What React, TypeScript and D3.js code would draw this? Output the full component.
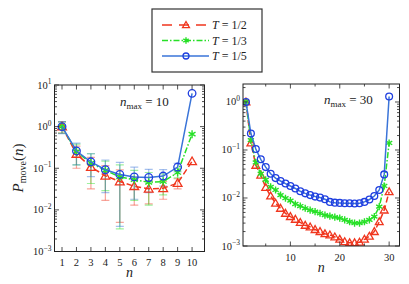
import React from 'react';
import * as d3 from 'd3';

// ---------- data ----------
const nLeft = [1, 2, 3, 4, 5, 6, 7, 8, 9, 10];
const leftT2 = [1.0, 0.22, 0.107, 0.066, 0.048, 0.037, 0.032, 0.033, 0.044, 0.146];
const leftT3 = [1.0, 0.25, 0.133, 0.089, 0.062, 0.053, 0.046, 0.048, 0.079, 0.66];
const leftT5 = [1.0, 0.26, 0.143, 0.092, 0.071, 0.062, 0.06, 0.065, 0.107, 6.3];
const leftErrT2 = [0.3, 0.12, 0.075, 0.049, 0.043, 0.024, 0.018, 0.015, 0.012, 0];
const leftErrT3 = [0.3, 0.13, 0.09, 0.06, 0.0585, 0.036, 0.033, 0.025, 0.02, 0];
const leftErrT5 = [0.32, 0.14, 0.08, 0.066, 0.067, 0.044, 0.034, 0.028, 0.025, 0];

const nRight = [1, 2, 3, 4, 5, 6, 7, 8, 9, 10, 11, 12, 13, 14, 15, 16, 17, 18, 19, 20, 21, 22, 23, 24, 25, 26, 27, 28, 29, 30];
const rightT2 = [1.0, 0.14, 0.048, 0.03, 0.0166, 0.011, 0.0078, 0.0061, 0.0048, 0.0041, 0.0036, 0.0031, 0.0027, 0.0025, 0.0022, 0.002, 0.0018, 0.0017, 0.00155, 0.00138, 0.00123, 0.00117, 0.00117, 0.0012, 0.00138, 0.0016, 0.002, 0.0032, 0.0056, 0.0135];
const rightT3 = [1.0, 0.16, 0.055, 0.032, 0.024, 0.017, 0.0147, 0.0115, 0.0099, 0.0088, 0.0075, 0.0068, 0.0061, 0.0056, 0.0052, 0.0048, 0.0044, 0.0042, 0.004, 0.0038, 0.0035, 0.0032, 0.003, 0.003, 0.0032, 0.0035, 0.0041, 0.0066, 0.0178, 0.14];
const rightT5 = [1.0, 0.22, 0.105, 0.064, 0.044, 0.032, 0.026, 0.0226, 0.02, 0.0178, 0.0158, 0.0138, 0.0125, 0.0115, 0.0107, 0.0102, 0.0094, 0.0083, 0.008, 0.0079, 0.0078, 0.0078, 0.0077, 0.0078, 0.0083, 0.0093, 0.011, 0.0147, 0.031, 1.3];

const legendLabels = ['1/2', '1/3', '1/5'];
const leftXTicks = [1, 2, 3, 4, 5, 6, 7, 8, 9, 10];
const rightXTicks = [10, 20, 30];
const rightXMinor = [5, 15, 25];

// ---------- style ----------
const RED = '#f0361e';
const GREEN = '#27e027';
const BLUE_LINE = '#3a74d8';
const BLUE_MK = '#1f3fe0';
const FONT = '"Liberation Serif", "DejaVu Serif", serif';

type Kind = 'tri' | 'star' | 'circ';
const styles: { color: string; mk: string; dash: string; kind: Kind }[] = [
  { color: RED, mk: RED, dash: '6,3', kind: 'tri' },
  { color: GREEN, mk: GREEN, dash: '6,2,1.5,2', kind: 'star' },
  { color: BLUE_LINE, mk: BLUE_MK, dash: '', kind: 'circ' },
];

function Marker({ x, y, kind, color, r = 3.6 }: { x: number; y: number; kind: Kind; color: string; r?: number }) {
  if (kind === 'circ') return <circle cx={x} cy={y} r={r} fill="none" stroke={color} strokeWidth={1.3} />;
  if (kind === 'tri') {
    const h = r * 1.15;
    return (
      <path
        d={`M${x},${y - h} L${x + h},${y + h * 0.75} L${x - h},${y + h * 0.75} Z`}
        fill="none"
        stroke={color}
        strokeWidth={1.3}
        strokeLinejoin="miter"
      />
    );
  }
  const a = r * 1.05;
  const c = Math.cos(Math.PI / 6) * a;
  const s = Math.sin(Math.PI / 6) * a;
  return (
    <path
      d={`M${x},${y - a} L${x},${y + a} M${x - c},${y - s} L${x + c},${y + s} M${x - c},${y + s} L${x + c},${y - s}`}
      stroke={color}
      strokeWidth={1.4}
      fill="none"
    />
  );
}

function Pow10({ x, y, k, anchor = 'end' }: { x: number; y: number; k: number; anchor?: string }) {
  return (
    <text x={x} y={y} textAnchor={anchor as any} fontFamily={FONT} fontSize={10.5} fill="#222">
      10
      <tspan dy={-4.5} fontSize={7.5}>
        {k < 0 ? '\u2212' + Math.abs(k) : String(k)}
      </tspan>
    </text>
  );
}

interface PanelProps {
  x0: number; x1: number; y0: number; y1: number;
  xDomain: [number, number]; yDomain: [number, number];
  ns: number[]; series: number[][]; errs?: number[][];
  xTicks: number[]; xMinor: number[]; tickLabelY: number;
  decades: number[]; nmax: string; nmaxX: number; nmaxY: number; r: number;
}

function Panel(p: PanelProps) {
  const x = d3.scaleLinear().domain(p.xDomain).range([p.x0, p.x1]);
  const y = d3.scaleLog().domain(p.yDomain).range([p.y1, p.y0]);
  const minor: number[] = [];
  p.decades.forEach((k) => {
    for (let m = 2; m <= 9; m++) {
      const v = m * Math.pow(10, k);
      if (v >= p.yDomain[0] && v <= p.yDomain[1]) minor.push(v);
    }
  });
  const line = d3
    .line<number>()
    .x((_, i) => x(p.ns[i]))
    .y((d) => y(d));
  const TK = 4.5;
  const TKm = 2.5;
  return (
    <g>
      <defs>
        <clipPath id={`clip${p.x0}`}>
          <rect x={p.x0} y={p.y0} width={p.x1 - p.x0} height={p.y1 - p.y0} />
        </clipPath>
      </defs>
      {/* error bars */}
      <g clipPath={`url(#clip${p.x0})`}>
        {p.errs &&
          p.errs.map((e, si) =>
            e.map((ev, i) => {
              if (!ev) return null;
              const v = p.series[si][i];
              const cx = x(p.ns[i]);
              const lo = y(Math.max(v - ev, 1e-4));
              const hi = y(v + ev);
              const c = styles[si].color;
              return (
                <g key={`e${si}-${i}`} stroke={c} strokeOpacity={0.45} strokeWidth={1.2}>
                  <line x1={cx} x2={cx} y1={lo} y2={hi} />
                  <line x1={cx - 4} x2={cx + 4} y1={lo} y2={lo} />
                  <line x1={cx - 4} x2={cx + 4} y1={hi} y2={hi} />
                </g>
              );
            })
          )}
        {p.series.map((s, si) => (
          <g key={`s${si}`}>
            <path d={line(s) || ''} fill="none" stroke={styles[si].color} strokeWidth={1.5} strokeDasharray={styles[si].dash} />
            {s.map((v, i) => (
              <Marker key={i} x={x(p.ns[i])} y={y(v)} kind={styles[si].kind} color={styles[si].mk} r={p.r} />
            ))}
          </g>
        ))}
      </g>
      {/* ticks */}
      <g stroke="#222" strokeWidth={0.8}>
        {p.decades.map((k) => {
          const yy = y(Math.pow(10, k));
          return (
            <g key={`yt${k}`}>
              <line x1={p.x0} x2={p.x0 + TK} y1={yy} y2={yy} />
              <line x1={p.x1} x2={p.x1 - TK} y1={yy} y2={yy} />
            </g>
          );
        })}
        {minor.map((v, i) => {
          const yy = y(v);
          return (
            <g key={`ym${i}`}>
              <line x1={p.x0} x2={p.x0 + TKm} y1={yy} y2={yy} />
              <line x1={p.x1} x2={p.x1 - TKm} y1={yy} y2={yy} />
            </g>
          );
        })}
        {p.xTicks.map((t) => (
          <g key={`xt${t}`}>
            <line x1={x(t)} x2={x(t)} y1={p.y1} y2={p.y1 - TK} />
            <line x1={x(t)} x2={x(t)} y1={p.y0} y2={p.y0 + TK} />
          </g>
        ))}
        {p.xMinor.map((t) => (
          <g key={`xm${t}`}>
            <line x1={x(t)} x2={x(t)} y1={p.y1} y2={p.y1 - TKm} />
            <line x1={x(t)} x2={x(t)} y1={p.y0} y2={p.y0 + TKm} />
          </g>
        ))}
      </g>
      <rect x={p.x0} y={p.y0} width={p.x1 - p.x0} height={p.y1 - p.y0} fill="none" stroke="#222" strokeWidth={1} />
      {p.decades.map((k) => (
        <Pow10 key={`yl${k}`} x={p.x0 - 3} y={y(Math.pow(10, k)) + 3.5} k={k} />
      ))}
      {p.xTicks.map((t) => (
        <text key={`xl${t}`} x={x(t)} y={p.tickLabelY} textAnchor="middle" fontFamily={FONT} fontSize={10.5} fill="#222">
          {t}
        </text>
      ))}
      <text x={(p.x0 + p.x1) / 2} y={p.tickLabelY + 11} textAnchor="middle" fontFamily={FONT} fontStyle="italic" fontSize={14} fill="#222">
        n
      </text>
      <text x={p.nmaxX} y={p.nmaxY} fontFamily={FONT} fontSize={13} fill="#222">
        <tspan fontStyle="italic">n</tspan>
        <tspan fontSize={9} dy={3}>max</tspan>
        <tspan dy={-3}> = {p.nmax}</tspan>
      </text>
    </g>
  );
}

export default function App() {
  return (
    <svg width={409} height={284} style={{ display: 'block', position: 'absolute', left: 0, top: 0 }}>
      <rect width={409} height={284} fill="#fff" />
      <Panel
        x0={54.5} x1={204.5} y0={85} y1={251.5}
        xDomain={[0.48, 10.86]} yDomain={[1e-3, 1e1]}
        ns={nLeft} series={[leftT2, leftT3, leftT5]} errs={[leftErrT2, leftErrT3, leftErrT5]}
        xTicks={leftXTicks} xMinor={[]} tickLabelY={266}
        decades={[-3, -2, -1, 0, 1]} nmax="10" nmaxX={120} nmaxY={106} r={3.8}
      />
      <Panel
        x0={243} x1={399.5} y0={84} y1={246}
        xDomain={[0.4, 32.1]} yDomain={[1e-3, 2.37]}
        ns={nRight} series={[rightT2, rightT3, rightT5]}
        xTicks={rightXTicks} xMinor={rightXMinor} tickLabelY={260.5}
        decades={[-3, -2, -1, 0]} nmax="30" nmaxX={324} nmaxY={104} r={3.4}
      />
      {/* y label */}
      <text transform="translate(23,168) rotate(-90)" textAnchor="middle" fontFamily={FONT} fontSize={15} fill="#222">
        <tspan fontStyle="italic">P</tspan>
        <tspan fontSize={10} dy={3}>move</tspan>
        <tspan dy={-3}>(</tspan>
        <tspan fontStyle="italic">n</tspan>
        <tspan>)</tspan>
      </text>
      {/* legend */}
      <rect x={152} y={9} width={110} height={63} fill="#fff" stroke="#333" strokeWidth={1.2} />
      {legendLabels.map((lab, i) => {
        const yy = 25 + i * 15.5;
        const st = styles[i];
        return (
          <g key={lab}>
            <line x1={162} x2={209} y1={yy} y2={yy} stroke={st.color} strokeWidth={1.5}
              strokeDasharray={i === 0 ? '10,7' : i === 1 ? '6,2,1.5,2' : ''} />
            <Marker x={186} y={yy} kind={st.kind} color={st.mk} r={3} />
            <text x={212} y={yy + 4} fontFamily={FONT} fontSize={12} fill="#222">
              <tspan fontStyle="italic">T</tspan>
              <tspan> = {lab}</tspan>
            </text>
          </g>
        );
      })}
    </svg>
  );
}
